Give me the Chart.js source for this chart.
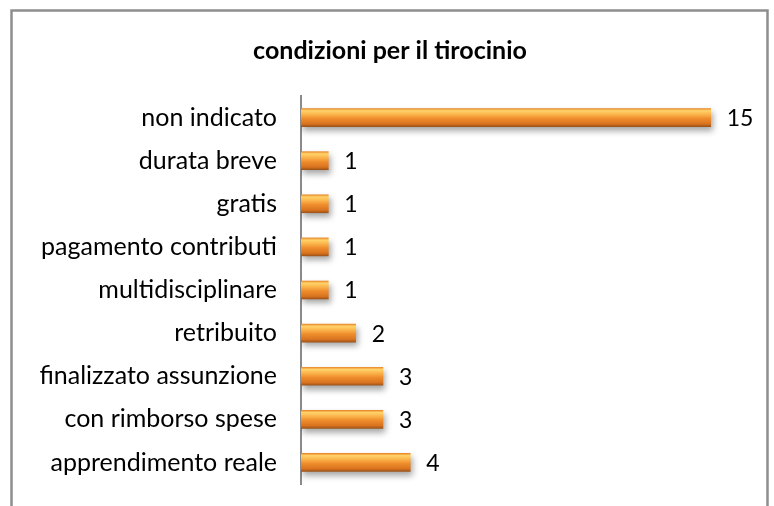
<!DOCTYPE html>
<html>
<head>
<meta charset="utf-8">
<script src="https://cdn.jsdelivr.net/npm/chart.js@4.4.0/dist/chart.umd.min.js"></script>
<style>
  html, body { margin: 0; padding: 0; background: #fff; }
  #wrap { width: 774px; height: 506px; }
</style>
</head>
<body>
<div id="wrap"><canvas id="tirocinioChart" width="774" height="506"></canvas></div>
<script>
var categories = ['non indicato', 'durata breve', 'gratis', 'pagamento contributi', 'multidisciplinare',
                  'retribuito', 'finalizzato assunzione', 'con rimborso spese', 'apprendimento reale'];
var counts = [15, 1, 1, 1, 1, 2, 3, 3, 4];
var chartTitle = 'condizioni per il tirocinio';

var fontName = 'Lato, "Open Sans", sans-serif';

// bar fill: orange with a light band on top, like the office 3d style
function barFill(context) {
    var chart = context.chart;
    var yScale = chart.scales.y;
    if (!yScale || context.dataIndex === undefined) return '#F0922E';
    var yc = yScale.getPixelForValue(context.dataIndex);
    if (!isFinite(yc)) return '#F0922E';
    var half = 9;
    var g = chart.ctx.createLinearGradient(0, yc - half, 0, yc + half);
    g.addColorStop(0, '#E98A2B');
    g.addColorStop(0.12, '#FFD36A');
    g.addColorStop(0.32, '#FBB54C');
    g.addColorStop(0.55, '#EF8E2D');
    g.addColorStop(0.85, '#D9731F');
    g.addColorStop(1, '#9E5419');
    return g;
}

var framePlugin = {
    id: 'frame',
    beforeDraw: function (chart) {
        var ctx = chart.ctx;
        ctx.save();
        ctx.strokeStyle = '#8E8E8E';
        ctx.lineWidth = 2.5;
        ctx.beginPath();
        ctx.moveTo(11.5, 520);
        ctx.lineTo(11.5, 10.5);
        ctx.lineTo(767.5, 10.5);
        ctx.lineTo(767.5, 520);
        ctx.stroke();
        ctx.fillStyle = '#000';
        ctx.font = 'bold 25px ' + fontName;
        ctx.textAlign = 'center';
        ctx.textBaseline = 'middle';
        ctx.fillText(chartTitle, 390, 51);
        ctx.restore();
    },
    beforeDatasetsDraw: function (chart) {
        var ctx = chart.ctx;
        ctx.save();
        ctx.shadowColor = 'rgba(0,0,0,0.35)';
        ctx.shadowBlur = 6;
        ctx.shadowOffsetX = 2;
        ctx.shadowOffsetY = 4;
    },
    afterDatasetsDraw: function (chart) {
        var ctx = chart.ctx;
        ctx.restore();
        var meta = chart.getDatasetMeta(0);
        ctx.save();
        ctx.fillStyle = '#000';
        ctx.font = '23px ' + fontName;
        ctx.textAlign = 'left';
        ctx.textBaseline = 'middle';
        meta.data.forEach(function (bar, i) {
            ctx.fillText(counts[i], bar.x + 16, bar.y + 1);
        });
        ctx.restore();
    }
};

var ctx = document.getElementById('tirocinioChart').getContext('2d');
var myChart = new Chart(ctx, {
    type: 'bar',
    data: {
        labels: categories,
        datasets: [{
            data: counts,
            backgroundColor: barFill,
            borderWidth: 0,
            barThickness: 18
        }]
    },
    options: {
        indexAxis: 'y',
        responsive: false,
        animation: false,
        layout: { padding: { left: 0, top: 96, right: 36, bottom: 22 } },
        plugins: {
            legend: { display: false },
            tooltip: { enabled: false }
        },
        scales: {
            x: {
                display: false,
                min: 0,
                max: 16
            },
            y: {
                afterFit: function (scale) {
                    scale.width = 301;
                    scale.paddingTop = 0;
                    scale.paddingBottom = 0;
                },
                grid: { display: false, drawTicks: false },
                border: { display: true, color: '#8A8A8A', width: 2 },
                ticks: {
                    color: '#000',
                    padding: 24,
                    font: { family: fontName, size: 25 }
                }
            }
        }
    },
    plugins: [framePlugin]
});
myChart.update();
</script>
</body>
</html>
